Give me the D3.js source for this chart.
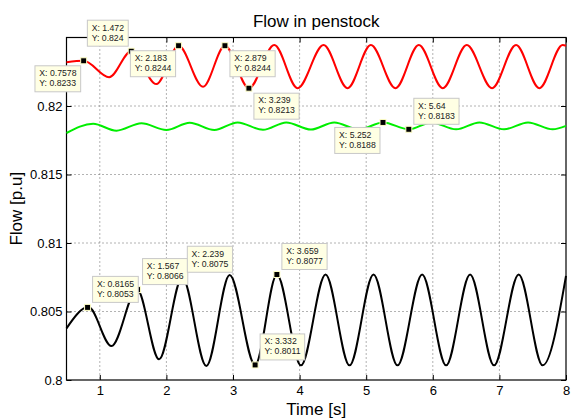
<!DOCTYPE html>
<html>
<head>
<meta charset="utf-8">
<script src="https://cdnjs.cloudflare.com/ajax/libs/d3/7.8.5/d3.min.js"></script>
<style>
  body { margin: 0; background: #fff; }
  svg text { font-family: "Liberation Sans", Arial, Helvetica, sans-serif; }
</style>
</head>
<body>
<div id="chart"></div>
<script>
// peaks and troughs, time [s] / flow [p.u]
var redTime = [0.5, 0.758, 1.14, 1.472, 1.85, 2.183, 2.55, 2.879, 3.239, 3.62, 3.97, 4.36, 4.72,
  5.07, 5.44, 5.79, 6.15, 6.51, 6.89, 7.25, 7.60, 7.95, 8.0];
var redFlow = [0.8232, 0.8233, 0.8221, 0.8240, 0.8216, 0.8244, 0.8214, 0.8244, 0.8213, 0.82445, 0.8213,
  0.82445, 0.8213, 0.82445, 0.8213, 0.82445, 0.8213, 0.82445, 0.8213, 0.82445, 0.8213, 0.82445, 0.8244];

var greenTime = [0.5, 0.90, 1.25, 1.625, 2.0, 2.35, 2.72, 3.07, 3.45, 3.80, 4.17, 4.52, 4.89,
  5.252, 5.64, 5.98, 6.35, 6.70, 7.07, 7.43, 7.80, 8.0];
var greenFlow = [0.81803, 0.8187, 0.8182, 0.81874, 0.81825, 0.81878, 0.81825, 0.8188, 0.81826, 0.8188,
  0.81828, 0.8188, 0.81828, 0.8188, 0.8183, 0.8188, 0.8183, 0.8188, 0.8183, 0.8188, 0.8183, 0.81855];

var blackTime = [0.5, 0.83, 1.175, 1.56, 1.89, 2.239, 2.60, 2.95, 3.332, 3.659, 4.02, 4.39, 4.75,
  5.11, 5.47, 5.84, 6.20, 6.56, 6.92, 7.29, 7.65, 8.0];
var blackFlow = [0.80377, 0.80532, 0.80248, 0.80662, 0.80151, 0.8075, 0.80102, 0.80766, 0.8011, 0.8077,
  0.80107, 0.8077, 0.80107, 0.8077, 0.80107, 0.8077, 0.80107, 0.8077, 0.80107, 0.8077, 0.80107, 0.8076];

var xTicks = [1, 2, 3, 4, 5, 6, 7, 8];
var yTicks = [0.8, 0.805, 0.81, 0.815, 0.82];

// data tips shown on the figure
var tipTime = [0.7578, 1.472, 2.183, 2.879, 3.239, 5.252, 5.64, 0.8165, 1.567, 2.239, 3.659, 3.332];
var tipFlow = [0.8233, 0.824, 0.8244, 0.8244, 0.8213, 0.8188, 0.8183, 0.8053, 0.8066, 0.8075, 0.8077, 0.8011];
// which side of the marker the tip box sits on
var tipSide = ['dl', 'ul', 'dl', 'dr', 'dr', 'dl', 'ur', 'ur', 'ur', 'ur', 'ur', 'ur'];

var width = 571;
var height = 419;
var plotLeft = 66.5, plotRight = 566, plotTop = 37.5, plotBottom = 380;

var svg = d3.select('#chart')
  .append('svg')
  .attr('width', width)
  .attr('height', height);

var x = d3.scaleLinear().domain([0.5, 8]).range([plotLeft, plotRight]);
var y = d3.scaleLinear().domain([0.8, 0.825]).range([plotBottom, plotTop]);

// dotted grid
svg.append('g').selectAll('line')
  .data(xTicks.filter(function(d) { return d < 8; }))
  .enter().append('line')
  .attr('x1', function(d) { return x(d); })
  .attr('x2', function(d) { return x(d); })
  .attr('y1', plotTop)
  .attr('y2', plotBottom)
  .style('stroke', '#666')
  .style('stroke-dasharray', '1,3');

svg.append('g').selectAll('line')
  .data(yTicks.filter(function(d) { return d > 0.8; }))
  .enter().append('line')
  .attr('x1', plotLeft)
  .attr('x2', plotRight)
  .attr('y1', function(d) { return y(d); })
  .attr('y2', function(d) { return y(d); })
  .style('stroke', '#666')
  .style('stroke-dasharray', '1,3');

// axes, ticks pointing inward
svg.append('g')
  .attr('transform', 'translate(0,' + plotBottom + ')')
  .call(d3.axisBottom(x).tickValues(xTicks).tickSize(-5).tickSizeOuter(0).tickPadding(6).tickFormat(d3.format('d')));
svg.append('g')
  .attr('transform', 'translate(0,' + plotTop + ')')
  .call(d3.axisTop(x).tickValues(xTicks).tickSize(-5).tickSizeOuter(0).tickFormat(''));
svg.append('g')
  .attr('transform', 'translate(' + plotLeft + ',0)')
  .call(d3.axisLeft(y).tickValues(yTicks).tickSize(-5).tickSizeOuter(0).tickPadding(4).tickFormat(d3.format('')));
svg.append('g')
  .attr('transform', 'translate(' + plotRight + ',0)')
  .call(d3.axisRight(y).tickValues(yTicks).tickSize(-5).tickSizeOuter(0).tickFormat(''));

svg.selectAll('.domain').remove();
svg.selectAll('.tick text')
  .style('font-size', '13px')
  .style('fill', '#000');
svg.selectAll('.tick line').style('stroke', '#000');

svg.append('rect')
  .attr('x', plotLeft)
  .attr('y', plotTop)
  .attr('width', plotRight - plotLeft)
  .attr('height', plotBottom - plotTop)
  .style('fill', 'none')
  .style('stroke', '#000')
  .style('stroke-width', 1.2);

// flow curves
var series = [
  { t: redTime, v: redFlow, color: '#ff0000' },
  { t: greenTime, v: greenFlow, color: '#00ee00' },
  { t: blackTime, v: blackFlow, color: '#000000' }
];

var line = d3.line()
  .x(function(d) { return x(d[0]); })
  .y(function(d) { return y(d[1]); })
  .curve(d3.curveMonotoneX);

svg.append('g').selectAll('path')
  .data(series)
  .enter().append('path')
  .attr('d', function(s) { return line(d3.zip(s.t, s.v)); })
  .style('fill', 'none')
  .style('stroke', function(s) { return s.color; })
  .style('stroke-width', 2);

// data tips: markers first, boxes on top
var tips = d3.zip(tipTime, tipFlow, tipSide);

svg.append('g').selectAll('rect')
  .data(tips)
  .enter().append('rect')
  .attr('x', function(d) { return x(d[0]) - 3; })
  .attr('y', function(d) { return y(d[1]) - 3; })
  .attr('width', 6)
  .attr('height', 6)
  .style('fill', '#000')
  .style('stroke', '#ffffc8')
  .style('stroke-width', 1);

var fmt = d3.format('.4');
var boxes = svg.append('g').selectAll('g')
  .data(tips)
  .enter().append('g');

boxes.each(function(d) {
  var g = d3.select(this);
  var rect = g.append('rect');
  var t1 = g.append('text').text('X: ' + fmt(d[0]));
  var t2 = g.append('text').text('Y: ' + fmt(d[1]));
  g.selectAll('text').style('font-size', '8.7px').style('fill', '#222');
  var w = Math.max(t1.node().getComputedTextLength(), t2.node().getComputedTextLength()) + 8.5;
  var h = 26;
  var mx = x(d[0]), my = y(d[1]);
  var bx = d[2][1] === 'l' ? mx - 3 - w : mx + 5;
  var by = d[2][0] === 'u' ? my - 5 - h : my + 5;
  rect.attr('x', bx).attr('y', by).attr('width', w).attr('height', h)
    .style('fill', '#ffffe4')
    .style('stroke', '#c8c8c8')
    .style('stroke-width', 1);
  t1.attr('x', bx + 4.3).attr('y', by + 10.3);
  t2.attr('x', bx + 4.3).attr('y', by + 20.3);
});

// labels
svg.append('text')
  .attr('x', (plotLeft + plotRight) / 2)
  .attr('y', 27)
  .style('text-anchor', 'middle')
  .style('font-size', '17px')
  .text('Flow in penstock');

svg.append('text')
  .attr('x', (plotLeft + plotRight) / 2)
  .attr('y', 415)
  .style('text-anchor', 'middle')
  .style('font-size', '17px')
  .text('Time [s]');

svg.append('text')
  .attr('transform', 'translate(22,' + (plotTop + plotBottom) / 2 + ') rotate(-90)')
  .style('text-anchor', 'middle')
  .style('font-size', '17px')
  .text('Flow [p.u]');
</script>
</body>
</html>
